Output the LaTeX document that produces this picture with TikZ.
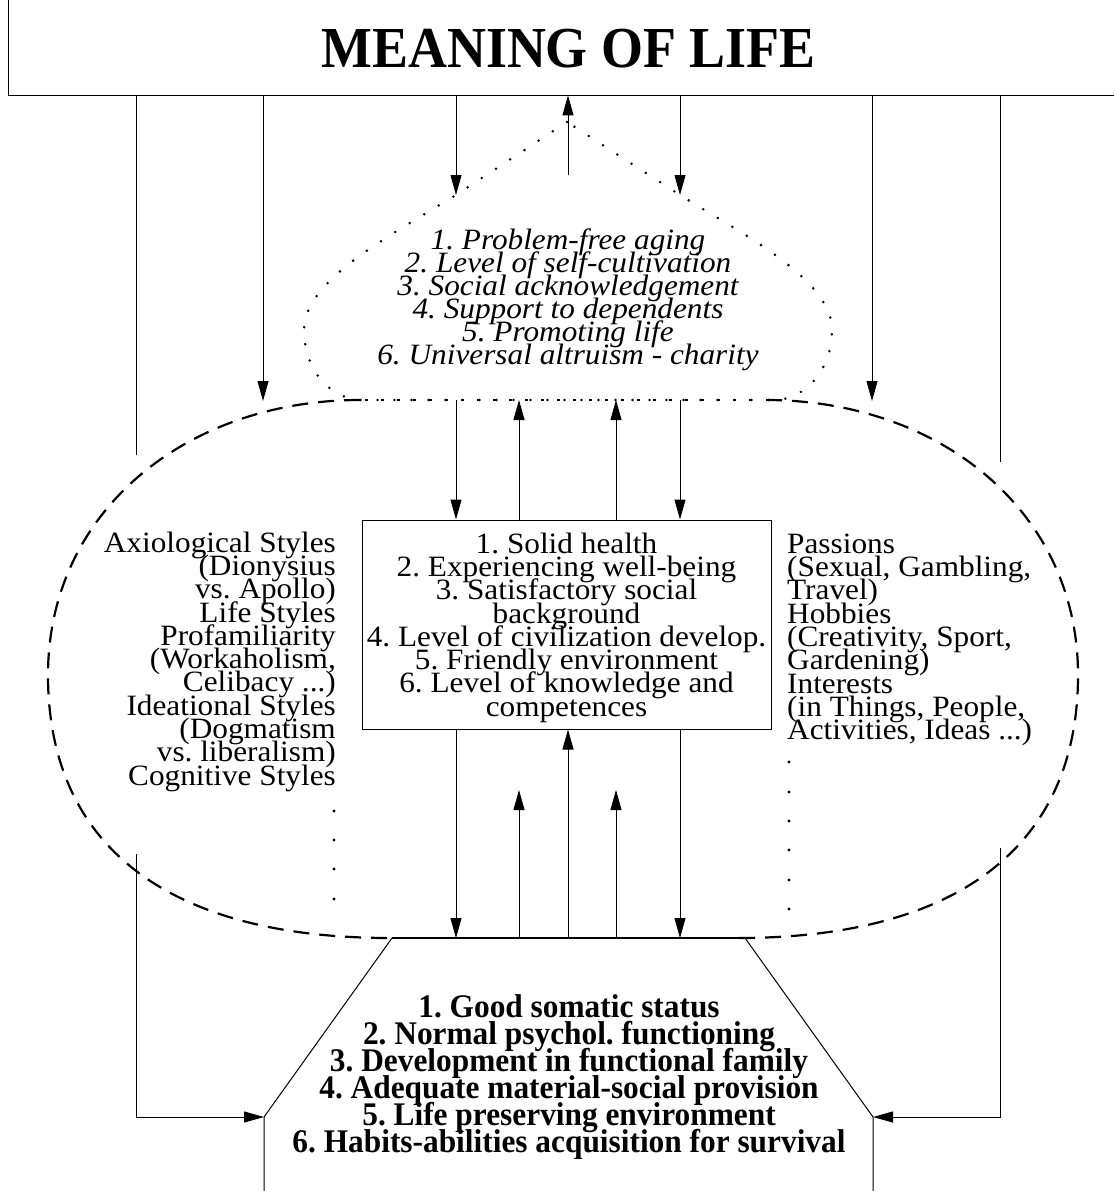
\documentclass[tikz,border=0pt]{standalone}
\usepackage{fontspec}
\setmainfont{Liberation Serif}
\newfontfamily\titlefont{Liberation Serif}[FakeStretch=0.93]
\newfontfamily\basefont{Liberation Serif}[FakeStretch=0.95]
\newfontfamily\widefont{Liberation Serif}[FakeStretch=1.06]
\usetikzlibrary{arrows.meta}
\newcommand\tightlines{\lineskiplimit-100pt\relax\frenchspacing}
\begin{document}
\frenchspacing
\begin{tikzpicture}[x=1pt,y=-1pt,
  conn/.style={line width=1pt},
  arr/.style={conn,-{Triangle[length=20pt,width=11pt]}},
  ellip/.style={line width=2.2pt,dash pattern=on 16pt off 10pt},
  ellipflat/.style={line width=2.6pt,dash pattern=on 2.6pt off 13.4pt},
  domeline/.style={line width=2.8pt,line cap=round,dash pattern=on 0pt off 17pt},
  regtext/.style={inner sep=0pt,font=\widefont\fontsize{29.5}{23.3}\selectfont\tightlines},
  ittext/.style={inner sep=0pt,font=\widefont\fontsize{29.5}{23}\selectfont\itshape\tightlines},
  boldtext/.style={inner sep=0pt,font=\basefont\fontsize{33}{27}\selectfont\bfseries\tightlines},
  dotmark/.style={fill=black}
]
\useasboundingbox (0,0) rectangle (1114,1191);

% top bar
\node[inner sep=0pt,minimum width=1106pt,minimum height=95pt,anchor=north west] (topbar) at (8,0) {};
\draw[conn] (topbar.north west) -- (topbar.south west) -- (topbar.south east);
\node[anchor=base,inner sep=0pt,font=\titlefont\fontsize{58}{58}\selectfont\bfseries] (title) at (568.5,67) {MEANING OF LIFE};

% columns and rows
\coordinate (xL1) at (136,0);
\coordinate (xL2) at (263,0);
\coordinate (xA) at (456,0);
\coordinate (xB) at (519,0);
\coordinate (xC) at (568,0);
\coordinate (xD) at (616,0);
\coordinate (xE) at (680,0);
\coordinate (xR2) at (872,0);
\coordinate (xR1) at (1000,0);
\coordinate (domeL) at (456,195);
\coordinate (domeR) at (680,195);
\coordinate (apex) at (567,122);
\coordinate (upstart) at (568,175);
\coordinate (domeB) at (0,400);
\coordinate (ellTop) at (0,401);
\coordinate (highL) at (136,455);
\coordinate (highR) at (1000,462);
\coordinate (lowL) at (136,854);
\coordinate (lowR) at (1000,848);
\coordinate (midLow) at (0,790);
\coordinate (baseTop) at (568,938);
\coordinate (bL) at (264,1117);
\coordinate (bR) at (873,1117);

% dotted dome
\draw[domeline] (apex) -- (domeL) .. controls (390,236) and (304,280) .. (304,330)
  .. controls (304,365) and (325,396) .. (358,400) -- (778,400)
  .. controls (811,396) and (832,365) .. (832,330)
  .. controls (832,280) and (746,236) .. (domeR) -- cycle;
\node[ittext,align=center,anchor=north] (dometext) at (568,228.5) {1. Problem-free aging\\2. Level of self-cultivation\\3. Social acknowledgement\\4. Support to dependents\\5. Promoting life\\6. Universal altruism - charity};

% dashed oval
\draw[ellip] (360,400) .. controls (188,400) and (48,510) .. (48,675)
  .. controls (48,846) and (168,938) .. (390,938);
\draw[ellip] (766,400) .. controls (938,400) and (1078,510) .. (1078,675)
  .. controls (1078,846) and (958,938) .. (738,938);
\draw[ellipflat] (365,400) -- (760,400);

% middle box
\node[draw,conn,inner sep=0pt,minimum width=409pt,minimum height=209pt] (midbox) at (566.5,624.5) {};
\node[regtext,align=center,anchor=north] (midtext) at (566.5,532.5) {1. Solid health\\2. Experiencing well-being\\3. Satisfactory social\\background\\4. Level of civilization develop.\\5. Friendly environment\\6. Level of knowledge and\\competences};

% side texts
\node[regtext,align=right,anchor=north east] (lefttext) at (336,531.5) {Axiological Styles\\(Dionysius\\vs. Apollo)\\Life Styles\\Profamiliarity\\(Workaholism,\\Celibacy ...)\\Ideational Styles\\(Dogmatism\\vs. liberalism)\\Cognitive Styles};
\node[regtext,align=left,anchor=north west] (righttext) at (787,533.5) {Passions\\(Sexual, Gambling,\\Travel)\\Hobbies\\(Creativity, Sport,\\Gardening)\\Interests\\(in Things, People,\\Activities, Ideas ...)};
\foreach \yy in {811,840,869,899} \fill[dotmark] (334,\yy) circle (1.7);
\foreach \yy in {762,792,821,850,880,909} \fill[dotmark] (789,\yy) circle (1.7);

% base trapezoid
\draw[conn] (264,1191) -- (bL) -- (392,938);
\draw[line width=1.6pt] (392,938) -- (745,938);
\draw[conn] (745,938) -- (bR) -- (873,1191);
\node[boldtext,align=center,anchor=north] (basetext) at (569,994.5) {1. Good somatic status\\2. Normal psychol. functioning\\3. Development in functional family\\4. Adequate material-social provision\\5. Life preserving environment\\6. Habits-abilities acquisition for survival};

% connectors from top bar
\draw[conn] (topbar.south -| xL1) -- (highL);
\draw[conn] (topbar.south -| xR1) -- (highR);
\draw[arr] (topbar.south -| xL2) -- (ellTop -| xL2);
\draw[arr] (topbar.south -| xR2) -- (ellTop -| xR2);
\draw[arr] (topbar.south -| xA) -- (domeL);
\draw[arr] (topbar.south -| xE) -- (domeR);
\draw[arr] (upstart) -- (topbar.south -| xC);

% between dome and middle box
\draw[arr] (domeB -| xA) -- (midbox.north -| xA);
\draw[arr] (domeB -| xE) -- (midbox.north -| xE);
\draw[arr] (midbox.north -| xB) -- (domeB -| xB);
\draw[arr] (midbox.north -| xD) -- (domeB -| xD);

% between middle box and base
\draw[arr] (midbox.south -| xA) -- (baseTop -| xA);
\draw[arr] (midbox.south -| xE) -- (baseTop -| xE);
\draw[arr] (baseTop -| xC) -- (midbox.south -| xC);
\draw[arr] (baseTop -| xB) -- (midLow -| xB);
\draw[arr] (baseTop -| xD) -- (midLow -| xD);

% side return connectors
\draw[arr] (lowL) |- (bL);
\draw[arr] (lowR) |- (bR);
\end{tikzpicture}
\end{document}
